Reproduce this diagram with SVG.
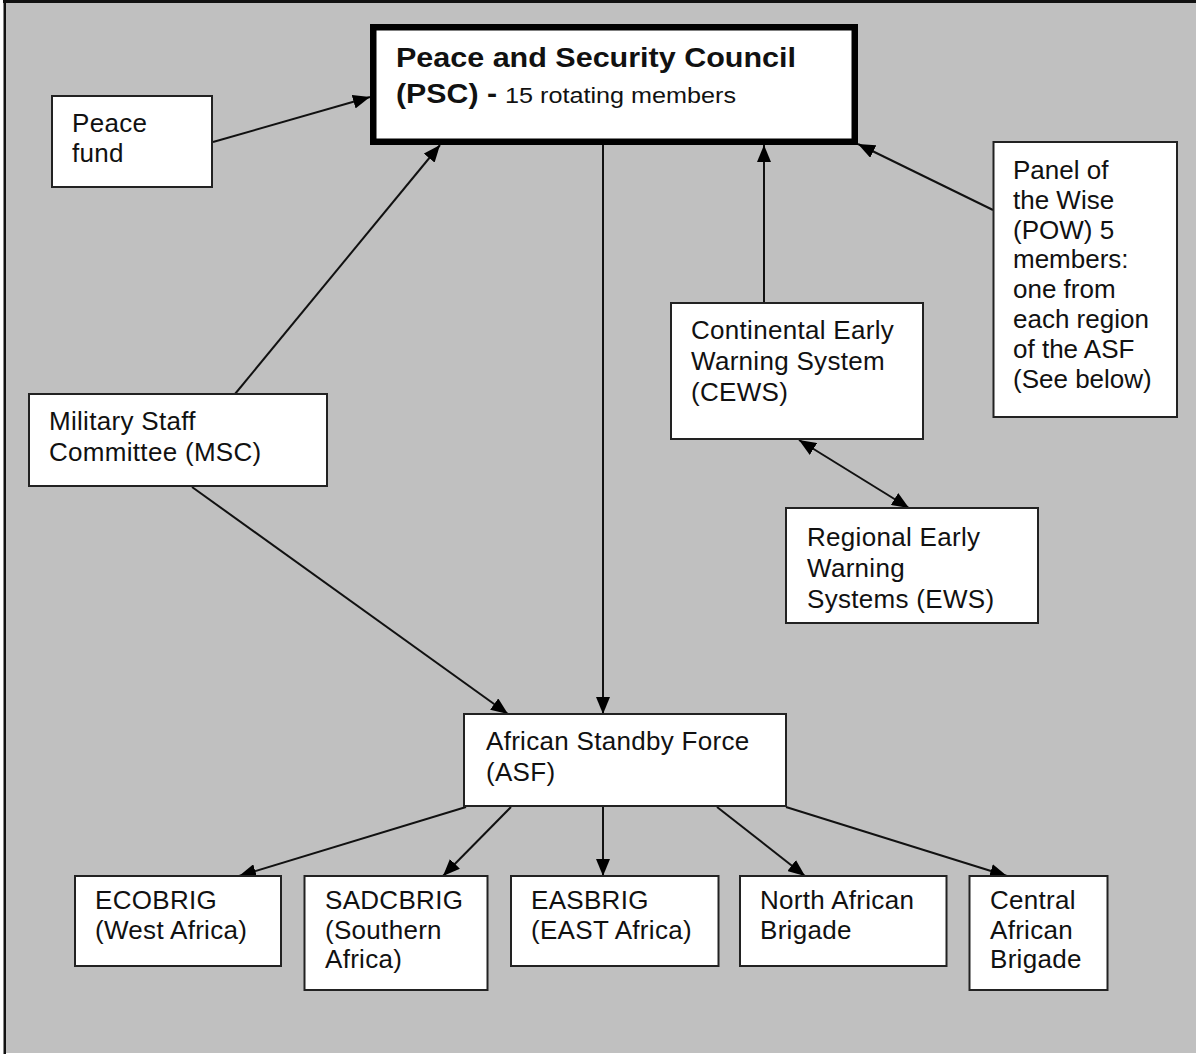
<svg xmlns="http://www.w3.org/2000/svg" width="1196" height="1057" viewBox="0 0 1196 1057">
<style>
.box{fill:#fff;stroke:#222;stroke-width:2}
.t{font-family:"Liberation Sans",Arial,sans-serif;font-size:26px;fill:#111;letter-spacing:0.3px}
.b{font-family:"Liberation Sans",Arial,sans-serif;font-weight:bold;fill:#111}
.c{fill:none;stroke:#111;stroke-width:2}
</style>
<defs>
<marker id="ah" markerUnits="userSpaceOnUse" markerWidth="17" markerHeight="14" refX="17" refY="7" orient="auto-start-reverse">
<path d="M0,0 L17,7 L0,14 Z" fill="#000"/>
</marker>
</defs>
<rect x="0" y="0" width="1196" height="1057" fill="#fff"/>
<rect x="5" y="2" width="1191" height="1051" fill="#c0c0c0"/>
<rect x="3" y="0" width="1193" height="3" fill="#111"/>
<rect x="3.5" y="0" width="2.5" height="1054" fill="#111"/>

<g id="connectors">
<line class="c" x1="213" y1="142" x2="370" y2="97" marker-end="url(#ah)"/>
<line class="c" x1="235" y1="394" x2="440" y2="145" marker-end="url(#ah)"/>
<line class="c" x1="603" y1="145" x2="603" y2="714" marker-end="url(#ah)"/>
<line class="c" x1="764" y1="303" x2="764" y2="145" marker-end="url(#ah)"/>
<line class="c" x1="993" y1="210" x2="858" y2="144" marker-end="url(#ah)"/>
<line class="c" x1="799" y1="440" x2="909" y2="508" marker-start="url(#ah)" marker-end="url(#ah)"/>
<line class="c" x1="192" y1="487" x2="508" y2="714" marker-end="url(#ah)"/>
<line class="c" x1="466" y1="807" x2="239" y2="876" marker-end="url(#ah)"/>
<line class="c" x1="511" y1="807" x2="443" y2="876" marker-end="url(#ah)"/>
<line class="c" x1="603" y1="807" x2="603" y2="876" marker-end="url(#ah)"/>
<line class="c" x1="717" y1="807" x2="805" y2="876" marker-end="url(#ah)"/>
<line class="c" x1="786" y1="807" x2="1007" y2="876" marker-end="url(#ah)"/>
</g>

<g id="psc">
<rect x="373.25" y="27.25" width="481.5" height="114.5" fill="#fff" stroke="#000" stroke-width="6.5"/>
<text class="b" x="396" y="67" font-size="27" textLength="400" lengthAdjust="spacingAndGlyphs">Peace and Security Council</text>
<text class="b" x="396" y="103" font-size="27" textLength="101" lengthAdjust="spacingAndGlyphs">(PSC) -</text>
<text class="t" x="505" y="103" style="font-size:22px;letter-spacing:0" textLength="231" lengthAdjust="spacingAndGlyphs">15 rotating members</text>
</g>

<g id="peace-fund">
<rect class="box" x="52" y="96" width="160" height="91"/>
<text class="t"><tspan x="72" y="132">Peace</tspan><tspan x="72" y="162">fund</tspan></text>
</g>

<g id="msc">
<rect class="box" x="29" y="394" width="298" height="92"/>
<text class="t"><tspan x="49" y="430">Military Staff</tspan><tspan x="49" y="461">Committee (MSC)</tspan></text>
</g>

<g id="cews">
<rect class="box" x="671" y="303" width="252" height="136"/>
<text class="t"><tspan x="691" y="339">Continental Early</tspan><tspan x="691" y="370">Warning System</tspan><tspan x="691" y="401">(CEWS)</tspan></text>
</g>

<g id="pow">
<rect class="box" x="993.5" y="142" width="183.5" height="275"/>
<text class="t" style="letter-spacing:0"><tspan x="1013" y="179">Panel of</tspan><tspan x="1013" y="209">the Wise</tspan><tspan x="1013" y="239">(POW) 5</tspan><tspan x="1013" y="268">members:</tspan><tspan x="1013" y="298">one from</tspan><tspan x="1013" y="328">each region</tspan><tspan x="1013" y="358">of the ASF</tspan><tspan x="1013" y="388">(See below)</tspan></text>
</g>

<g id="rews">
<rect class="box" x="786" y="508" width="252" height="115"/>
<text class="t"><tspan x="807" y="546">Regional Early</tspan><tspan x="807" y="577">Warning</tspan><tspan x="807" y="608">Systems (EWS)</tspan></text>
</g>

<g id="asf">
<rect class="box" x="464" y="714" width="322" height="92"/>
<text class="t"><tspan x="486" y="750">African Standby Force</tspan><tspan x="486" y="781">(ASF)</tspan></text>
</g>

<g id="ecobrig">
<rect class="box" x="75" y="876" width="206" height="90"/>
<text class="t"><tspan x="95" y="909">ECOBRIG</tspan><tspan x="95" y="939">(West Africa)</tspan></text>
</g>

<g id="sadcbrig">
<rect class="box" x="304.5" y="876" width="183" height="114"/>
<text class="t"><tspan x="325" y="909">SADCBRIG</tspan><tspan x="325" y="939">(Southern</tspan><tspan x="325" y="968">Africa)</tspan></text>
</g>

<g id="easbrig">
<rect class="box" x="511" y="876" width="207.5" height="90"/>
<text class="t"><tspan x="531" y="909">EASBRIG</tspan><tspan x="531" y="939">(EAST Africa)</tspan></text>
</g>

<g id="north">
<rect class="box" x="740" y="876" width="206.5" height="90"/>
<text class="t"><tspan x="760" y="909">North African</tspan><tspan x="760" y="939">Brigade</tspan></text>
</g>

<g id="central">
<rect class="box" x="969.5" y="876" width="138" height="114"/>
<text class="t"><tspan x="990" y="909">Central</tspan><tspan x="990" y="939">African</tspan><tspan x="990" y="968">Brigade</tspan></text>
</g>
</svg>
